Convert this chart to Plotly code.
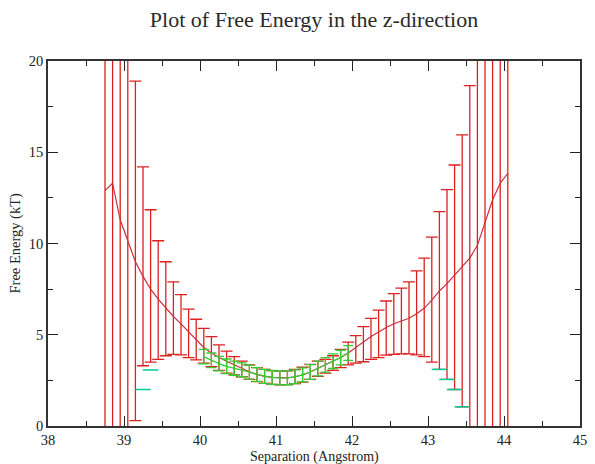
import plotly.graph_objects as go

# ---- data ----
sep = [38.75, 38.85, 38.95, 39.05, 39.15, 39.25, 39.35, 39.45, 39.55, 39.65,
       39.75, 39.85, 39.95, 40.05, 40.15, 40.25, 40.35, 40.45, 40.55, 40.65,
       40.75, 40.85, 40.95, 41.05, 41.15, 41.25, 41.35, 41.45, 41.55, 41.65,
       41.75, 41.85, 41.95, 42.05, 42.15, 42.25, 42.35, 42.45, 42.55, 42.65,
       42.75, 42.85, 42.95, 43.05, 43.15, 43.25, 43.35, 43.45, 43.55, 43.65,
       43.75, 43.85, 43.95, 44.05]

free_energy = [12.9, 13.3, 11.3, 10.2, 9.0, 8.2, 7.5, 6.95, 6.45, 6.0,
               5.6, 5.15, 4.7, 4.3, 4.0, 3.75, 3.55, 3.35, 3.15, 2.97,
               2.83, 2.72, 2.66, 2.63, 2.64, 2.7, 2.8, 2.96, 3.15, 3.35,
               3.55, 3.75, 4.0, 4.3, 4.6, 4.9, 5.15, 5.4, 5.6, 5.75,
               5.9, 6.15, 6.45, 6.9, 7.4, 7.8, 8.25, 8.7, 9.2, 9.9,
               11.2, 12.4, 13.3, 13.85]

upper_bound = [30, 30, 30, 30, 18.9, 14.2, 11.85, 10.15, 9.0, 7.9,
               7.2, 6.4, 5.85, 5.35, 4.9, 4.45, 4.1, 3.8, 3.55, 3.35,
               3.2, 3.1, 3.03, 3.01, 3.02, 3.1, 3.22, 3.38, 3.55, 3.65,
               3.85, 4.2, 4.6, 4.95, 5.45, 5.9, 6.35, 6.85, 7.25, 7.55,
               7.9, 8.5, 9.2, 10.35, 11.75, 12.95, 14.3, 15.95, 18.65, 30,
               30, 30, 30, 30]

lower_bound = [-1, -1, -1, -1, 0.3, 3.3, 3.5, 3.65, 3.85, 3.93,
               3.9, 3.75, 3.62, 3.45, 3.25, 3.05, 2.9, 2.8, 2.7, 2.56,
               2.43, 2.34, 2.28, 2.25, 2.27, 2.32, 2.4, 2.55, 2.72, 2.9,
               3.05, 3.2, 3.35, 3.45, 3.52, 3.65, 3.75, 3.88, 3.93, 3.95,
               3.95, 3.9, 3.8, 3.5, 3.1, 2.55, 2.0, 1.05, -1, -1,
               -1, -1, -1, -1]

sep_green = [40.05, 40.15, 40.25, 40.35, 40.45, 40.55, 40.65, 40.75, 40.85, 40.95,
             41.05, 41.15, 41.25, 41.35, 41.45, 41.55, 41.65, 41.75, 41.85, 41.95]
fe_green = [3.8, 3.6, 3.42, 3.27, 3.17, 3.08, 2.95, 2.82, 2.72, 2.66,
            2.63, 2.64, 2.7, 2.8, 2.96, 3.15, 3.35, 3.55, 3.75, 4.0]
err_green = [0.4, 0.4, 0.4, 0.4, 0.39, 0.38, 0.38, 0.38, 0.38, 0.38,
             0.38, 0.38, 0.38, 0.38, 0.4, 0.4, 0.4, 0.4, 0.4, 0.4]

cap_sep = [39.25, 39.35, 43.15, 43.25, 43.35, 43.45]
cap_fe = [2.0, 3.07, 3.1, 2.55, 2.0, 1.05]

x_ticks = [38, 39, 40, 41, 42, 43, 44, 45]
y_ticks = [0, 5, 10, 15, 20]

RED = "#dd2020"
REDLINE = "#c8303c"
GREEN = "#33cc33"
FONT = "Liberation Serif"

err_plus = [u - y for u, y in zip(upper_bound, free_energy)]
err_minus = [y - l for l, y in zip(lower_bound, free_energy)]

fig = go.Figure()

fig.add_trace(go.Scatter(
    x=sep, y=free_energy, mode="lines",
    line=dict(color=REDLINE, width=1.2),
    error_y=dict(type="data", symmetric=False, array=err_plus, arrayminus=err_minus,
                 color=RED, thickness=1.3, width=6),
    showlegend=False, hoverinfo="skip"))

fig.add_trace(go.Scatter(
    x=sep_green, y=fe_green, mode="lines",
    line=dict(color=GREEN, width=1.2),
    error_y=dict(type="data", array=err_green, color=GREEN, thickness=1.3, width=5),
    showlegend=False, hoverinfo="skip"))

fig.add_trace(go.Scatter(
    x=cap_sep, y=cap_fe, mode="markers",
    marker=dict(symbol="line-ew-open", size=11, line=dict(color=GREEN, width=1.5)),
    showlegend=False, hoverinfo="skip"))

axis_common = dict(
    showgrid=False, zeroline=False, showline=True, linecolor="#333", linewidth=1.5,
    mirror="ticks", ticks="inside", ticklen=10, tickwidth=1, tickcolor="#222",
    tickfont=dict(family=FONT, size=14.5, color="#222"))

fig.update_xaxes(range=[38, 45], tickvals=x_ticks, ticktext=[str(v) for v in x_ticks],
                 minor=dict(ticks="inside", ticklen=5, dtick=0.5, tickcolor="#222"),
                 **axis_common)
fig.update_yaxes(range=[0, 20], tickvals=y_ticks, ticktext=[str(v) for v in y_ticks],
                 minor=dict(ticks="inside", ticklen=5, dtick=2.5, tickcolor="#222"),
                 **axis_common)

# page body has an 8px margin, so the figure is sized/placed to compensate
W, H = 587, 456
fig.update_layout(
    width=W, height=H,
    margin=dict(l=40, r=8, t=53, b=38, pad=0),
    paper_bgcolor="white", plot_bgcolor="white",
    title=dict(text="Plot of Free Energy in the z-direction",
               font=dict(family=FONT, size=22, color="#2a2a2a"),
               x=0.5, xref="paper", xanchor="center",
               y=1 - 11 / H, yref="container", yanchor="middle"),
    annotations=[
        dict(text="Separation (Angstrom)", xref="paper", yref="paper", x=0.5, y=0,
             yanchor="middle", yshift=-31, showarrow=False,
             font=dict(family=FONT, size=14, color="#222")),
        dict(text="Free Energy (kT)", xref="paper", yref="paper", x=0, y=0.5,
             xanchor="center", xshift=-33, textangle=-90, showarrow=False,
             font=dict(family=FONT, size=14.5, color="#222")),
    ],
)

fig.write_html("out.html")
